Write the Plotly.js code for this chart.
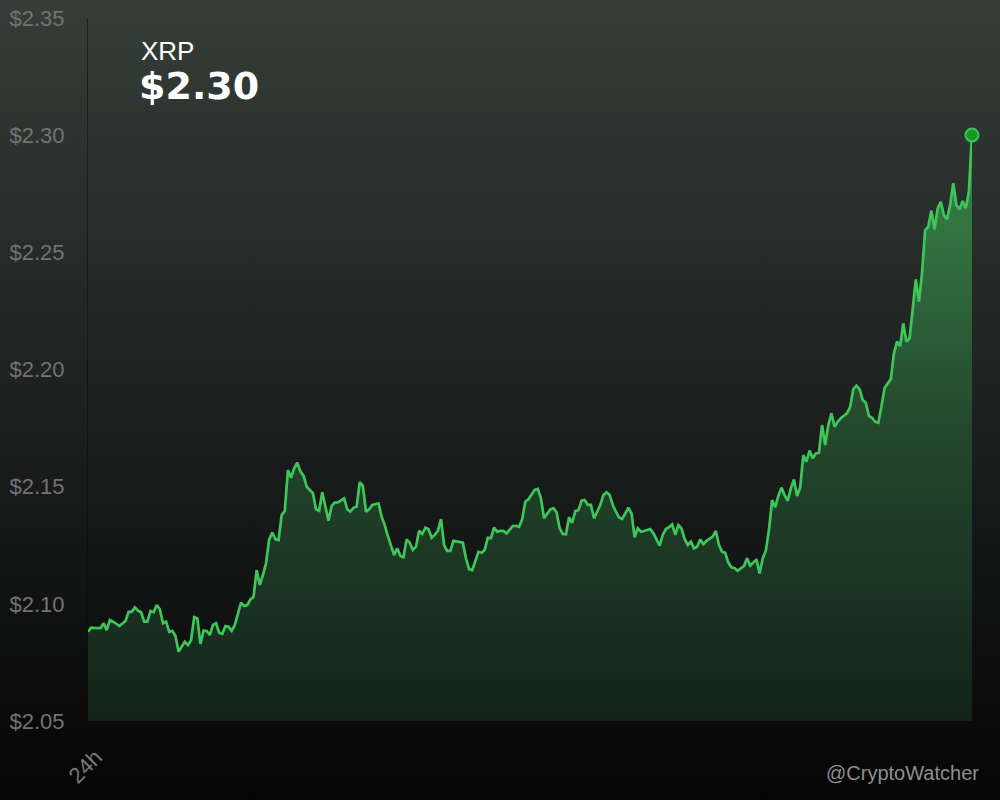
<!DOCTYPE html>
<html>
<head>
<meta charset="utf-8">
<script src="https://cdn.plot.ly/plotly-3.0.1.min.js"></script>
<style>
  html, body { margin: 0; padding: 0; background: #050505; }
  #chart { width: 1000px; height: 800px; background: linear-gradient(to bottom, #353e39 0%, #1b1e1d 55%, #050505 100%); }
</style>
</head>
<body>
<div id="chart"></div>
<script>
// ---- data ----
const coinName = "XRP";
const priceLabel = "$2.30";
const periodLabels = ["24h"];
const watermark = "@CryptoWatcher";
const yTickValues = [2.05, 2.10, 2.15, 2.20, 2.25, 2.30, 2.35];
const yTickLabels = ["$2.05", "$2.10", "$2.15", "$2.20", "$2.25", "$2.30", "$2.35"];

const prices = [
  2.0881, 2.0898, 2.0897, 2.0896, 2.0896, 2.0917, 2.0888, 2.0931, 2.0924, 2.0916,
  2.0905, 2.0916, 2.0927, 2.0966, 2.0966, 2.0985, 2.0971, 2.0964, 2.0924, 2.0924,
  2.0969, 2.0964, 2.0995, 2.0977, 2.0917, 2.0924, 2.0881, 2.0885, 2.0863, 2.0796,
  2.0820, 2.0838, 2.0824, 2.0846, 2.0943, 2.0938, 2.0829, 2.0885, 2.0884, 2.0867,
  2.0910, 2.0917, 2.0877, 2.0871, 2.0905, 2.0902, 2.0885, 2.0910, 2.0957, 2.1005,
  2.0991, 2.0995, 2.1019, 2.1030, 2.1144, 2.1080, 2.1123, 2.1173, 2.1275, 2.1304,
  2.1275, 2.1272, 2.1379, 2.1396, 2.1571, 2.1538, 2.1578, 2.1602, 2.1564, 2.1547,
  2.1500, 2.1486, 2.1472, 2.1403, 2.1397, 2.1476, 2.1415, 2.1355, 2.1418, 2.1432,
  2.1433, 2.1443, 2.1450, 2.1403, 2.1393, 2.1410, 2.1415, 2.1519, 2.1504, 2.1393,
  2.1403, 2.1422, 2.1426, 2.1429, 2.1372, 2.1336, 2.1289, 2.1244, 2.1208, 2.1237,
  2.1204, 2.1199, 2.1275, 2.1261, 2.1230, 2.1244, 2.1312, 2.1298, 2.1325, 2.1319,
  2.1282, 2.1294, 2.1311, 2.1361, 2.1251, 2.1226, 2.1226, 2.1269, 2.1266, 2.1263,
  2.1261, 2.1194, 2.1147, 2.1144, 2.1187, 2.1222, 2.1218, 2.1230, 2.1282, 2.1280,
  2.1325, 2.1308, 2.1311, 2.1311, 2.1301, 2.1315, 2.1332, 2.1333, 2.1329, 2.1361,
  2.1436, 2.1446, 2.1464, 2.1486, 2.1490, 2.1450, 2.1365, 2.1383, 2.1403, 2.1408,
  2.1391, 2.1322, 2.1298, 2.1297, 2.1369, 2.1346, 2.1396, 2.1400, 2.1440, 2.1443,
  2.1422, 2.1422, 2.1365, 2.1393, 2.1422, 2.1464, 2.1476, 2.1464, 2.1422, 2.1393,
  2.1369, 2.1362, 2.1389, 2.1410, 2.1386, 2.1284, 2.1322, 2.1308, 2.1311, 2.1315,
  2.1319, 2.1301, 2.1277, 2.1248, 2.1294, 2.1319, 2.1327, 2.1339, 2.1294, 2.1336,
  2.1322, 2.1277, 2.1251, 2.1265, 2.1237, 2.1244, 2.1275, 2.1255, 2.1269, 2.1278,
  2.1287, 2.1311, 2.1251, 2.1222, 2.1218, 2.1176, 2.1156, 2.1152, 2.1141, 2.1152,
  2.1161, 2.1194, 2.1163, 2.1176, 2.1190, 2.1130, 2.1194, 2.1227, 2.1315, 2.1443,
  2.1412, 2.1460, 2.1496, 2.1464, 2.1440, 2.1493, 2.1531, 2.1460, 2.1497, 2.1635,
  2.1607, 2.1654, 2.1621, 2.1642, 2.1645, 2.1763, 2.1678, 2.1763, 2.1813, 2.1756,
  2.1777, 2.1792, 2.1802, 2.1813, 2.1841, 2.1916, 2.1931, 2.1916, 2.1870, 2.1858,
  2.1802, 2.1794, 2.1777, 2.1773, 2.1841, 2.1920, 2.1941, 2.1958, 2.2069, 2.2119,
  2.2100, 2.2197, 2.2119, 2.2133, 2.2254, 2.2385, 2.2289, 2.2411, 2.2595, 2.2609,
  2.2678, 2.2598, 2.2688, 2.2716, 2.2659, 2.2641, 2.2702, 2.2795, 2.2702, 2.2684,
  2.2719, 2.2688, 2.2759, 2.3001
];

// ---- build ----
const idx = prices.map((_, i) => i);
const lastI = idx[idx.length - 1];
const lastP = prices[prices.length - 1];

const lineTrace = {
  type: 'scatter',
  mode: 'lines',
  x: idx,
  y: prices,
  line: { color: '#3ec65a', width: 2.7, shape: 'linear' },
  fill: 'tozeroy',
  fillgradient: {
    type: 'vertical',
    start: 2.05,
    stop: 2.30,
    colorscale: [[0, '#13231a'], [0.5, '#24482d'], [1, '#3a874b']]
  },
  hoverinfo: 'skip',
  cliponaxis: false
};

const endTrace = {
  type: 'scatter',
  mode: 'markers',
  x: [lastI],
  y: [lastP],
  marker: { size: 13, color: '#139a22', line: { color: '#3ec65a', width: 2 } },
  hoverinfo: 'skip',
  cliponaxis: false
};

const layout = {
  width: 1000,
  height: 800,
  paper_bgcolor: 'rgba(0,0,0,0)',
  plot_bgcolor: 'rgba(0,0,0,0)',
  margin: { l: 88, r: 28, t: 18, b: 79 },
  showlegend: false,
  font: { family: 'Liberation Sans, Arial, sans-serif', color: '#777777' },
  xaxis: {
    range: [0, lastI],
    showgrid: false,
    zeroline: false,
    showline: false,
    tickvals: [0],
    ticktext: periodLabels,
    tickangle: -45,
    tickfont: { size: 22, color: '#777777' },
    ticklabelstandoff: 18,
    ticklabelshift: 8,
    fixedrange: true
  },
  yaxis: {
    range: [2.05, 2.35],
    tickvals: yTickValues,
    ticktext: yTickLabels,
    showgrid: false,
    zeroline: false,
    showline: true,
    linecolor: 'rgba(10,12,11,0.55)',
    linewidth: 1,
    tickfont: { size: 22, color: '#737373' },
    ticklabelstandoff: 18,
    fixedrange: true
  },
  annotations: [
    {
      text: coinName, xref: 'paper', yref: 'paper',
      x: (139 - 88) / 884, y: 0.953, xanchor: 'left', yanchor: 'middle',
      showarrow: false, font: { size: 26, color: '#ffffff', family: 'Liberation Sans, Arial, sans-serif' }
    },
    {
      text: priceLabel, xref: 'paper', yref: 'paper',
      x: (137 - 88) / 884, y: 0.9035, xanchor: 'left', yanchor: 'middle',
      showarrow: false, font: { size: 38, color: '#ffffff', family: 'DejaVu Sans, sans-serif', weight: 700 }
    },
    {
      text: watermark, xref: 'paper', yref: 'paper',
      x: (981 - 88) / 884, y: (721 - 773) / 703, xanchor: 'right', yanchor: 'middle',
      showarrow: false, font: { size: 20, color: '#8f8f8f', family: 'Liberation Sans, Arial, sans-serif' }
    }
  ]
};

Plotly.newPlot('chart', [lineTrace, endTrace], layout, { displayModeBar: false, staticPlot: true });
</script>
</body>
</html>
